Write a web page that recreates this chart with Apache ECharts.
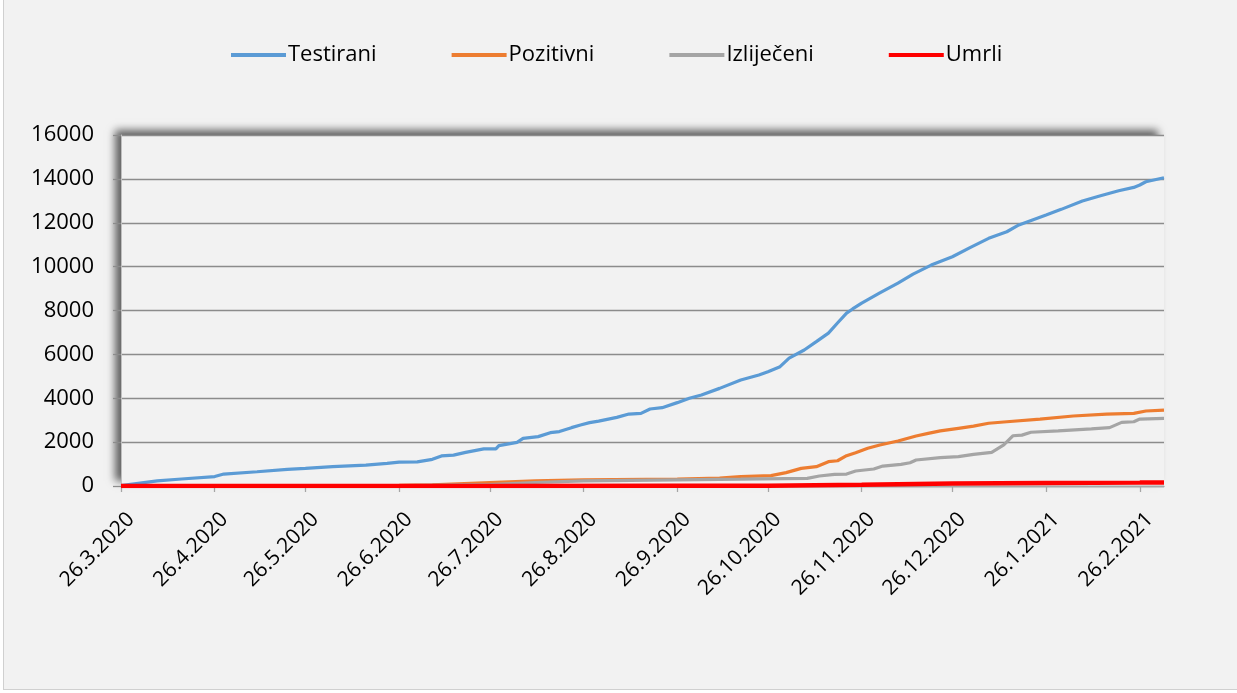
<!DOCTYPE html>
<html>
<head>
<meta charset="utf-8">
<script src="https://cdn.jsdelivr.net/npm/echarts@6/dist/echarts.min.js"></script>
<style>
  html, body { margin: 0; padding: 0; background: #ffffff; width: 1237px; height: 693px; overflow: hidden; }
  #frame { position: absolute; left: 3px; top: -10px; width: 1240px; height: 700px; background: #f2f2f2; border: 1px solid #d0d0d0; box-sizing: border-box; }
  #chart { position: absolute; left: 0; top: 0; width: 1237px; height: 693px; }
</style>
</head>
<body>
<div id="frame"></div>
<div id="chart"></div>
<script>
// Tick labels (26th of each month)
const tickLabels = ['26.3.2020','26.4.2020','26.5.2020','26.6.2020','26.7.2020','26.8.2020','26.9.2020',
  '26.10.2020','26.11.2020','26.12.2020','26.1.2021','26.2.2021'];
const startDate = '26.3.2020';
const endDate = '6.3.2021';
const seriesNames = ['Testirani', 'Pozitivni', 'Izliječeni', 'Umrli'];

// Values: [date, cumulative count]
const testirani = [
  ['26.3.2020', 20], ['7.4.2020', 230], ['15.4.2020', 320], ['26.4.2020', 430], ['29.4.2020', 545],
  ['10.5.2020', 650], ['20.5.2020', 760], ['26.5.2020', 805], ['4.6.2020', 880], ['15.6.2020', 955],
  ['22.6.2020', 1030], ['26.6.2020', 1090], ['2.7.2020', 1100], ['7.7.2020', 1215], ['10.7.2020', 1370],
  ['14.7.2020', 1410], ['18.7.2020', 1535], ['24.7.2020', 1690], ['28.7.2020', 1690], ['29.7.2020', 1840],
  ['4.8.2020', 1990], ['6.8.2020', 2170], ['11.8.2020', 2250], ['15.8.2020', 2430], ['18.8.2020', 2480],
  ['22.8.2020', 2660], ['25.8.2020', 2780], ['28.8.2020', 2890], ['31.8.2020', 2960], ['6.9.2020', 3130],
  ['10.9.2020', 3280], ['14.9.2020', 3310], ['17.9.2020', 3510], ['21.9.2020', 3570], ['26.9.2020', 3800],
  ['30.9.2020', 4000], ['4.10.2020', 4150], ['10.10.2020', 4450], ['17.10.2020', 4830], ['23.10.2020', 5060],
  ['26.10.2020', 5210], ['30.10.2020', 5440], ['2.11.2020', 5830], ['7.11.2020', 6200], ['11.11.2020', 6580],
  ['15.11.2020', 6970], ['18.11.2020', 7430], ['21.11.2020', 7880], ['23.11.2020', 8070], ['26.11.2020', 8340],
  ['2.12.2020', 8800], ['8.12.2020', 9250], ['13.12.2020', 9660], ['19.12.2020', 10070], ['26.12.2020', 10450],
  ['1.1.2021', 10880], ['7.1.2021', 11290], ['13.1.2021', 11590], ['17.1.2021', 11900], ['26.1.2021', 12350],
  ['31.1.2021', 12610], ['7.2.2021', 12990], ['13.2.2021', 13230], ['19.2.2021', 13460], ['24.2.2021', 13610],
  ['26.2.2021', 13720], ['28.2.2021', 13870], ['6.3.2021', 14050]
];
const pozitivni = [
  ['26.3.2020', 5], ['26.5.2020', 15], ['26.6.2020', 25], ['7.7.2020', 50], ['26.7.2020', 160],
  ['10.8.2020', 230], ['26.8.2020', 280], ['26.9.2020', 320], ['10.10.2020', 360], ['17.10.2020', 425],
  ['27.10.2020', 470], ['1.11.2020', 610], ['6.11.2020', 805], ['11.11.2020', 880], ['15.11.2020', 1110],
  ['18.11.2020', 1150], ['21.11.2020', 1380], ['24.11.2020', 1520], ['28.11.2020', 1720], ['2.12.2020', 1870],
  ['8.12.2020', 2050], ['14.12.2020', 2280], ['18.12.2020', 2400], ['22.12.2020', 2510], ['28.12.2020', 2630],
  ['2.1.2021', 2730], ['7.1.2021', 2860], ['13.1.2021', 2930], ['24.1.2021', 3050], ['4.2.2021', 3190],
  ['15.2.2021', 3280], ['24.2.2021', 3310], ['28.2.2021', 3420], ['6.3.2021', 3460]
];
const izlijeceni = [
  ['26.3.2020', 0], ['26.6.2020', 15], ['26.7.2020', 60], ['10.8.2020', 160], ['26.8.2020', 230],
  ['26.9.2020', 280], ['17.10.2020', 310], ['8.11.2020', 350], ['12.11.2020', 455], ['17.11.2020', 530],
  ['21.11.2020', 545], ['24.11.2020', 685], ['30.11.2020', 775], ['3.12.2020', 910], ['9.12.2020', 985],
  ['12.12.2020', 1060], ['14.12.2020', 1185], ['22.12.2020', 1290], ['28.12.2020', 1340], ['2.1.2021', 1445],
  ['8.1.2021', 1535], ['12.1.2021', 1870], ['15.1.2021', 2290], ['18.1.2021', 2320], ['21.1.2021', 2450],
  ['30.1.2021', 2510], ['10.2.2021', 2600], ['16.2.2021', 2660], ['20.2.2021', 2900], ['24.2.2021', 2930],
  ['26.2.2021', 3050], ['6.3.2021', 3085]
];
const umrli = [
  ['26.3.2020', 0], ['26.7.2020', 5], ['26.9.2020', 10], ['26.10.2020', 15], ['26.11.2020', 60],
  ['26.12.2020', 110], ['26.1.2021', 135], ['26.2.2021', 155], ['6.3.2021', 165]
];

// Build daily category list spanning the axis
function parseD(s) { const p = s.split('.').map(Number); return new Date(Date.UTC(p[2], p[1] - 1, p[0])); }
function fmtD(d) { return d.getUTCDate() + '.' + (d.getUTCMonth() + 1) + '.' + d.getUTCFullYear(); }
const categories = [];
for (let d = parseD(startDate); d <= parseD(endDate); d = new Date(d.getTime() + 86400000)) categories.push(fmtD(d));
const tickSet = new Set(tickLabels);
const isTick = (i, v) => tickSet.has(v);

const FONT = '"Open Sans"';
const chart = echarts.init(document.getElementById('chart'), null, { renderer: 'canvas' });
chart.setOption({
  backgroundColor: 'transparent',
  animation: false,
  textStyle: { fontFamily: FONT },
  legend: {
    data: seriesNames,
    top: 39,
    left: 226,
    icon: 'rect',
    itemWidth: 55,
    itemHeight: 4,
    itemGap: 75,
    textStyle: { fontFamily: FONT, fontSize: 22, color: '#000', padding: [0, 0, 0, -3] }
  },
  grid: {
    left: 121, right: 73, top: 135, bottom: 207,
    show: true, backgroundColor: '#f2f2f2', borderWidth: 0,
    shadowColor: 'rgba(0,0,0,0.6)', shadowBlur: 8, shadowOffsetX: -6, shadowOffsetY: -5
  },
  xAxis: {
    type: 'category',
    data: categories,
    boundaryGap: false,
    axisLine: { show: true, lineStyle: { color: '#a6a6a6', width: 1.3 } },
    axisTick: { show: true, interval: isTick, length: 6, lineStyle: { color: '#a6a6a6', width: 1.3 } },
    axisLabel: { interval: isTick, rotate: 45, fontFamily: FONT, fontSize: 21, color: '#000', margin: 40, padding: [0, -14, 0, 0] },
    splitLine: { show: false }
  },
  yAxis: {
    type: 'value',
    min: 0, max: 16000, interval: 2000,
    axisLine: { show: true, lineStyle: { color: '#bfbfbf', width: 1 } },
    axisTick: { show: true, length: 8, lineStyle: { color: '#8c8c8c', width: 1.3 } },
    axisLabel: { fontFamily: FONT, fontSize: 22, color: '#000', margin: 27, formatter: v => String(v) },
    splitLine: { show: true, lineStyle: { color: '#8c8c8c', width: 1.3 } }
  },
  series: [
    { name: seriesNames[0], type: 'line', data: testirani, symbol: 'none', lineStyle: { color: '#5b9bd5', width: 3.2 }, itemStyle: { color: '#5b9bd5' } },
    { name: seriesNames[1], type: 'line', data: pozitivni, symbol: 'none', lineStyle: { color: '#ed7d31', width: 3.2 }, itemStyle: { color: '#ed7d31' } },
    { name: seriesNames[2], type: 'line', data: izlijeceni, symbol: 'none', lineStyle: { color: '#a5a5a5', width: 3.2 }, itemStyle: { color: '#a5a5a5' } },
    { name: seriesNames[3], type: 'line', data: umrli, symbol: 'none', lineStyle: { color: '#ff0000', width: 4.5 }, itemStyle: { color: '#ff0000' } }
  ]
});
</script>
</body>
</html>
